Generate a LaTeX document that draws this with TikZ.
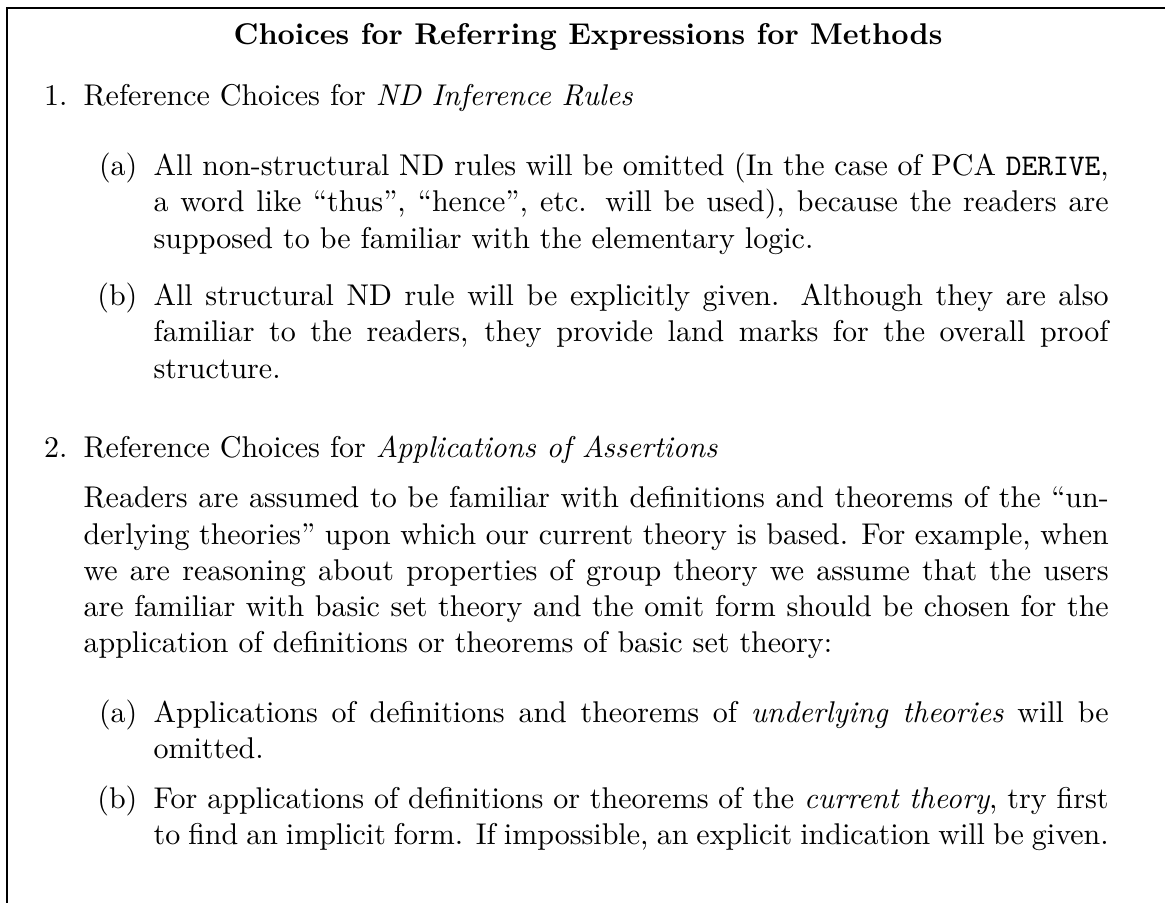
\documentclass[tikz,border=0pt]{standalone}
\begin{document}
\begin{tikzpicture}[x=0.3333pt,y=-0.3333pt,
  para/.style={inner sep=0pt,anchor=base west,align=justify,font=\normalsize},
  itemtext/.style={para,text width=341.7pt},
  subtext/.style={para,text width=318.3pt},
  lbl/.style={inner sep=0pt,anchor=base east},
  frame/.style={line width=0.6pt}]
\useasboundingbox (0,0) rectangle (1165,903);
% open frame: top rule and left rule
\coordinate (tl) at (7,8);
\coordinate (tr) at (1165,8);
\coordinate (bl) at (7,903);
\draw[frame] (bl) -- (tl) -- (tr);

\node[inner sep=0pt,anchor=base] (title) at (588,45)
  {\bfseries Choices for Referring Expressions for Methods};

% item 1
\node[lbl] (n1) at (68,106) {1.};
\node[itemtext] (i1) at (83,106) {Reference Choices for \textit{ND Inference Rules}};

\node[lbl] (n1a) at (138,176) {(a)};
\node[subtext] (i1a) at (153,176) {All non-structural ND rules will be omitted (In the case of PCA \texttt{DERIVE},\linebreak
a word like ``thus'', ``hence'', etc. will be used), because the readers are\linebreak
supposed to be familiar with the elementary logic.};

\node[lbl] (n1b) at (138,306) {(b)};
\node[subtext] (i1b) at (153,306) {All structural ND rule will be explicitly given. Although they are also\linebreak
familiar to the readers, they provide land marks for the overall proof\linebreak
structure.};

% item 2
\node[lbl] (n2) at (68,458) {2.};
\node[itemtext] (i2) at (83,458) {Reference Choices for \textit{Applications of Assertions}};

\node[itemtext] (p2) at (83,508) {Readers are assumed to be familiar with definitions and theorems of the ``un-\linebreak
derlying theories'' upon which our current theory is based. For example, when\linebreak
we are reasoning about properties of group theory we assume that the users\linebreak
are familiar with basic set theory and the omit form should be chosen for the\linebreak
application of definitions or theorems of basic set theory:};

\node[lbl] (n2a) at (138,722) {(a)};
\node[subtext] (i2a) at (153,722) {Applications of definitions and theorems of \textit{underlying theories} will be\linebreak
omitted.};

\node[lbl] (n2b) at (138,808) {(b)};
\node[subtext] (i2b) at (153,808) {For applications of definitions or theorems of the \textit{current theory}, try first\linebreak
to find an implicit form. If impossible, an explicit indication will be given.};
\end{tikzpicture}
\end{document}
